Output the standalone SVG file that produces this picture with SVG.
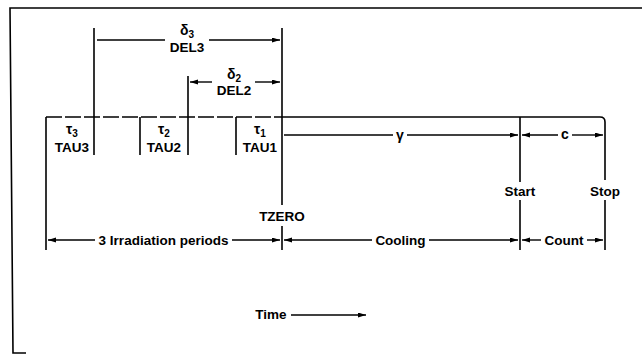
<svg xmlns="http://www.w3.org/2000/svg" width="642" height="356" viewBox="0 0 642 356">
<style>
.ln{stroke:#000;stroke-width:1.6;fill:none}
.ar{stroke:#000;stroke-width:1.4;fill:none}
.t{font-family:"Liberation Sans",Arial,sans-serif;font-size:13.5px;font-weight:bold;fill:#000;text-anchor:middle}
.g{font-family:"Liberation Sans",Arial,sans-serif;font-size:14px;font-weight:bold;fill:#000;text-anchor:middle}
.s{font-size:10px}
</style>
<defs>
<marker id="ah" markerUnits="userSpaceOnUse" markerWidth="8" markerHeight="6" refX="8" refY="2.5" orient="auto-start-reverse">
<path d="M0,0 L8,2.5 L0,5 z" fill="#000"/>
</marker>
</defs>
<rect width="642" height="356" fill="#fff"/>
<g id="frame">
<path class="ln" d="M642,8 H10 L13,353 H26"/>
</g>
<g id="timeline">
<path class="ln" d="M46,250 V117"/>
<path class="ln" d="M46,117 H282" stroke-dasharray="16 3"/>
<path class="ln" d="M282,117 H600 Q605,117 605,122 V180"/>
<path class="ln" d="M605,200 V250"/>
</g>
<g id="tau3">
<path class="ln" d="M94,28 V155"/>
<text class="g" x="72" y="134">τ<tspan class="s" dy="3">3</tspan></text>
<text class="t" x="72" y="152">TAU3</text>
</g>
<g id="tau2">
<path class="ln" d="M140,117 V155"/>
<path class="ln" d="M188,76 V155"/>
<text class="g" x="164" y="134">τ<tspan class="s" dy="3">2</tspan></text>
<text class="t" x="164" y="152">TAU2</text>
</g>
<g id="tau1">
<path class="ln" d="M236,117 V155"/>
<text class="g" x="260" y="134">τ<tspan class="s" dy="3">1</tspan></text>
<text class="t" x="260" y="152">TAU1</text>
</g>
<g id="tzero">
<path class="ln" d="M282,28 V205"/>
<path class="ln" d="M282,226 V250"/>
<text class="t" x="282" y="221">TZERO</text>
</g>
<g id="start">
<path class="ln" d="M520,117 V182"/>
<path class="ln" d="M520,200 V250"/>
<text class="t" x="520" y="196">Start</text>
</g>
<g id="stop">
<text class="t" x="605" y="196">Stop</text>
</g>
<g id="del3">
<text class="g" x="187" y="35">δ<tspan class="s" dy="3">3</tspan></text>
<text class="t" x="187" y="52">DEL3</text>
</g>
<g id="del2">
<text class="g" x="234" y="79">δ<tspan class="s" dy="3">2</tspan></text>
<text class="t" x="234" y="95">DEL2</text>
</g>
<g id="labels">
<text class="g" x="400" y="140">γ</text>
<text class="g" x="565" y="139">c</text>
<text class="t" x="163.5" y="245">3 Irradiation periods</text>
<text class="t" x="400.5" y="245">Cooling</text>
<text class="t" x="564" y="245">Count</text>
<text class="t" x="271" y="319">Time</text>
</g>
<g id="connectors">
<path class="ar" d="M97,40 H165"/>
<path class="ar" d="M209,40 H280" marker-end="url(#ah)"/>
<path class="ar" d="M212,82 H190" marker-end="url(#ah)"/>
<path class="ar" d="M255,82 H280" marker-end="url(#ah)"/>
<path class="ar" d="M284,135 H393"/>
<path class="ar" d="M407,135 H518" marker-end="url(#ah)"/>
<path class="ar" d="M558,135 H522" marker-end="url(#ah)"/>
<path class="ar" d="M572,135 H603" marker-end="url(#ah)"/>
<path class="ar" d="M95,240 H48" marker-end="url(#ah)"/>
<path class="ar" d="M232,240 H280" marker-end="url(#ah)"/>
<path class="ar" d="M372,240 H284" marker-end="url(#ah)"/>
<path class="ar" d="M429,240 H518" marker-end="url(#ah)"/>
<path class="ar" d="M541,240 H522" marker-end="url(#ah)"/>
<path class="ar" d="M587,240 H603" marker-end="url(#ah)"/>
<path class="ar" d="M291,315 H366" marker-end="url(#ah)"/>
</g>
</svg>
